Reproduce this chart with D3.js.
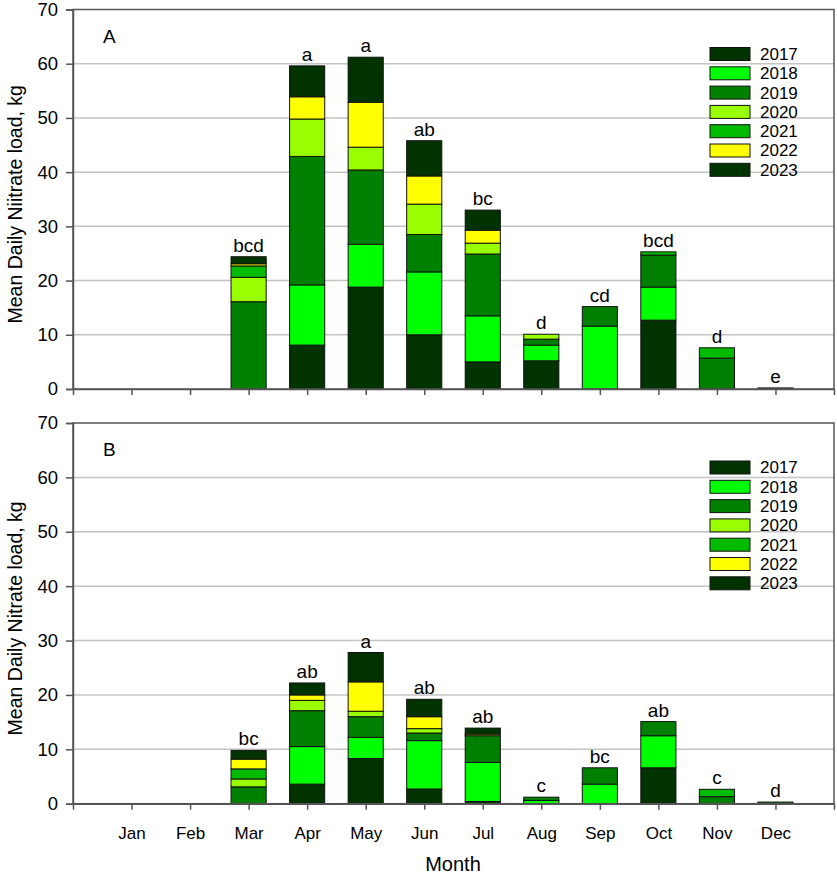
<!DOCTYPE html>
<html>
<head>
<meta charset="utf-8">
<script src="https://cdn.jsdelivr.net/npm/d3@7"></script>
<style>
  body { margin: 0; background: #fff; }
  text { font-family: Arial, "Liberation Sans", sans-serif; fill: #000; }
</style>
</head>
<body>
<script>
// Meses y años
const months = ["Jan", "Feb", "Mar", "Apr", "May", "Jun", "Jul", "Aug", "Sep", "Oct", "Nov", "Dec"];
const years = ["2017", "2018", "2019", "2020", "2021", "2022", "2023"];
const yearColors = ["#003300", "#00ff00", "#008000", "#99ff00", "#00bb00", "#ffff00", "#003300"];
const yTicks = [0, 10, 20, 30, 40, 50, 60, 70];

// Panel A
const a2017 = [0, 0, 0, 8.1, 18.8, 10.0, 5.0, 5.2, 0, 12.7, 0, 0];
const a2018 = [0, 0, 0, 11.1, 7.9, 11.6, 8.5, 2.9, 11.6, 6.1, 0, 0];
const a2019 = [0, 0, 16.1, 23.7, 13.7, 6.9, 11.4, 1.1, 3.6, 5.9, 5.7, 0.2];
const a2020 = [0, 0, 4.5, 6.9, 4.2, 5.6, 2.0, 0.9, 0, 0, 0, 0];
const a2021 = [0, 0, 2.1, 0, 0, 0, 0, 0, 0, 0.6, 1.9, 0];
const a2022 = [0, 0, 0.4, 4.1, 8.3, 5.2, 2.4, 0, 0, 0, 0, 0];
const a2023 = [0, 0, 1.3, 5.7, 8.3, 6.5, 3.7, 0, 0, 0, 0, 0];
const lettersA = ["", "", "bcd", "a", "a", "ab", "bc", "d", "cd", "bcd", "d", "e"];

// Panel B
const b2017 = [0, 0, 0, 3.6, 8.3, 2.7, 0.4, 0, 0, 6.6, 0, 0];
const b2018 = [0, 0, 0, 6.9, 3.9, 8.9, 7.2, 0.6, 3.6, 5.9, 0, 0];
const b2019 = [0, 0, 3.1, 6.6, 3.8, 1.4, 4.9, 0.6, 3.0, 2.6, 1.3, 0.3];
const b2020 = [0, 0, 1.45, 1.9, 1.0, 0.8, 0, 0, 0, 0, 0, 0];
const b2021 = [0, 0, 1.85, 0, 0, 0, 0, 0, 0, 0, 1.35, 0];
const b2022 = [0, 0, 1.8, 1.0, 5.4, 2.2, 0.3, 0, 0, 0, 0, 0];
const b2023 = [0, 0, 1.6, 2.2, 5.4, 3.2, 1.1, 0, 0, 0, 0, 0];
const lettersB = ["", "", "bc", "ab", "a", "ab", "ab", "c", "bc", "ab", "c", "d"];

const width = 837;
const height = 874;

const svg = d3.select("body").append("svg")
  .attr("width", width)
  .attr("height", height);

const left = 73, right = 834;
const x = d3.scaleLinear().domain([0, 13]).range([left, right]);
const barW = (x(1) - x(0)) * 0.6;

// Construye la tabla para d3.stack
function buildRows(series) {
  return months.map((m, i) => {
    const row = { month: m, idx: i };
    years.forEach((y, k) => { row[y] = series[k][i]; });
    return row;
  });
}

function drawPanel(top, bottom, series, letters, panelLabel, yTitle, showMonths) {
  const y = d3.scaleLinear().domain([0, 70]).range([bottom, top]);
  const g = svg.append("g");

  // líneas de la rejilla
  g.selectAll(".grid")
    .data(yTicks.filter(t => t > 0 && t < 70))
    .enter().append("line")
    .attr("x1", left).attr("x2", right)
    .attr("y1", d => y(d)).attr("y2", d => y(d))
    .attr("stroke", "#c4c4c4")
    .attr("stroke-width", 1.5);

  const rows = buildRows(series);
  const stacked = d3.stack().keys(years)(rows);

  stacked.forEach((layer, k) => {
    g.selectAll(null)
      .data(layer.filter(d => d[1] - d[0] > 0))
      .enter().append("rect")
      .attr("x", d => x(d.data.idx + 1) - barW / 2)
      .attr("width", barW)
      .attr("y", d => y(d[1]))
      .attr("height", d => Math.max(y(d[0]) - y(d[1]), 0.8))
      .attr("fill", yearColors[k])
      .attr("stroke", "#111")
      .attr("stroke-width", 1);
  });

  // letras de significancia
  const totals = rows.map(r => d3.sum(years, yy => r[yy]));
  g.selectAll(".lett")
    .data(letters)
    .enter().append("text")
    .attr("x", (d, i) => x(i + 1))
    .attr("y", (d, i) => y(totals[i]) - 5)
    .attr("text-anchor", "middle")
    .attr("font-size", "19px")
    .text(d => d);

  // marco
  g.append("rect")
    .attr("x", left).attr("y", top)
    .attr("width", right - left).attr("height", bottom - top)
    .attr("fill", "none")
    .attr("stroke", "#555")
    .attr("stroke-width", 1.5);

  // eje Y
  const yAxis = d3.axisLeft(y).tickValues(yTicks).tickSize(7).tickPadding(8);
  const ya = g.append("g").attr("transform", `translate(${left},0)`).call(yAxis);
  ya.select(".domain").attr("stroke", "#555").attr("stroke-width", 1.5);
  ya.selectAll(".tick line").attr("stroke", "#555").attr("stroke-width", 1.5);
  ya.selectAll("text").attr("font-size", "18.5px").attr("font-family", "Arial, 'Liberation Sans', sans-serif");

  // eje X
  const xAxis = d3.axisBottom(x)
    .tickValues(d3.range(1, 13))
    .tickSize(6)
    .tickPadding(17)
    .tickFormat(d => showMonths ? months[d - 1] : "");
  const xa = g.append("g").attr("transform", `translate(0,${bottom})`).call(xAxis);
  xa.select(".domain").attr("stroke", "#555").attr("stroke-width", 1.5);
  xa.selectAll(".tick line").attr("stroke", "#555").attr("stroke-width", 1.5);
  xa.selectAll("text").attr("font-size", "17px").attr("font-family", "Arial, 'Liberation Sans', sans-serif");

  // etiqueta del panel
  g.append("text")
    .attr("x", 103).attr("y", top + 33)
    .attr("font-size", "19px")
    .text(panelLabel);

  // título del eje Y
  g.append("text")
    .attr("transform", `translate(22,${(top + bottom) / 2 + 5}) rotate(-90)`)
    .attr("text-anchor", "middle")
    .attr("font-size", "19.5px")
    .text(yTitle);

  // leyenda
  const leg = g.append("g").attr("transform", `translate(710,${top + 38})`);
  years.forEach((yy, k) => {
    leg.append("rect")
      .attr("x", 0).attr("y", k * 19.3)
      .attr("width", 40).attr("height", 13)
      .attr("fill", yearColors[k])
      .attr("stroke", "#111")
      .attr("stroke-width", 1);
    leg.append("text")
      .attr("x", 50).attr("y", k * 19.3 + 6.5)
      .attr("dy", "0.35em")
      .attr("font-size", "17px")
      .text(yy);
  });
}

drawPanel(9.5, 389, [a2017, a2018, a2019, a2020, a2021, a2022, a2023], lettersA, "A",
  "Mean Daily Niitrate load, kg", false);
drawPanel(423, 803.7, [b2017, b2018, b2019, b2020, b2021, b2022, b2023], lettersB, "B",
  "Mean Daily Nitrate load, kg", true);

// título del eje X
svg.append("text")
  .attr("x", 453).attr("y", 871)
  .attr("text-anchor", "middle")
  .attr("font-size", "20px")
  .text("Month");
</script>
</body>
</html>
